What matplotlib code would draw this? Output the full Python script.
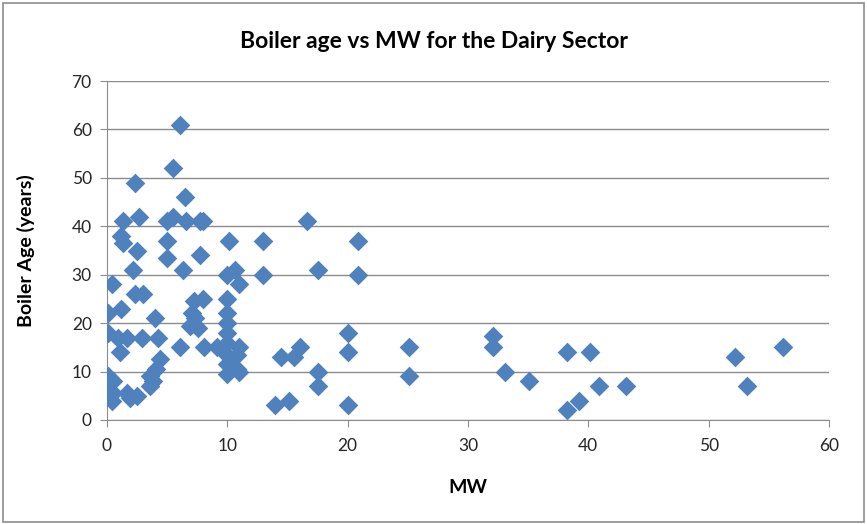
"""Scatter of boiler age against MW for the dairy sector."""

import matplotlib

matplotlib.use("Agg")
import matplotlib.pyplot as plt  # noqa:E402
from matplotlib.patches import Rectangle  # noqa:E402

OUTPUT_FIG = "out.png"

# boiler capacity (MW) and age (years)
mw = [
    6.1, 5.5, 2.3, 6.5,
    1.3, 2.7, 5.0, 5.5, 6.6, 7.7, 8.0, 16.6,
    1.2, 1.3, 5.0, 10.1, 13.0, 20.9,
    2.5, 5.0, 7.7,
    2.2, 6.3, 10.0, 10.6, 13.0, 17.5, 20.9,
    0.4, 11.0,
    2.3, 3.0, 7.2, 8.0, 10.0,
    1.2, 0.1, 4.0, 7.1, 7.3, 6.9, 7.6, 10.0, 10.0,
    0.1, 0.9, 1.7, 2.9, 4.2, 10.0, 20.0, 32.1,
    1.1, 6.1, 8.1, 9.1, 10.0, 11.0, 10.0, 10.8,
    14.5, 15.5, 16.0, 20.0, 25.1, 32.1, 38.2, 40.1, 52.2, 56.2,
    4.4, 4.1, 3.6, 3.8, 3.6, 10.0, 10.8, 10.0, 11.0, 17.5, 33.1, 25.1, 35.1,
    0.1, 0.5, 0.1, 0.5, 0.4, 1.7, 1.9, 2.5,
    17.5, 40.9, 43.1, 53.2,
    14.0, 15.1, 20.0, 38.2, 39.2,
]
age = [
    61, 52, 49, 46,
    41, 42, 41, 42, 41, 41, 41, 41,
    38, 36.5, 37, 37, 37, 37,
    35, 33.5, 34,
    31, 31, 30, 31, 30, 31, 30,
    28, 28,
    26, 26, 24.5, 25, 25,
    23, 22, 21, 22, 21, 19.5, 19, 22, 20,
    18, 17, 17, 17, 17, 18, 18, 17.4,
    14, 15, 15, 15, 16, 15, 13.5, 13.5,
    13, 13, 15, 14, 15, 15, 14, 14, 13, 15,
    12.5, 10.5, 9, 8, 7, 11.5, 10.5, 9.5, 10, 10, 10, 9, 8,
    9, 8, 6.5, 5.5, 4, 5.5, 4.5, 5,
    7, 7, 7, 7,
    3, 4, 3, 2, 4,
]

x_ticks = [0, 10, 20, 30, 40, 50, 60]
y_ticks = [0, 10, 20, 30, 40, 50, 60, 70]

plt.rcParams["font.family"] = ["Lato", "DejaVu Sans"]

fig = plt.figure(figsize=(8.67, 5.24), dpi=100)
ax = fig.add_axes([107 / 867, 1 - 420 / 524, 722 / 867, 339 / 524])

ax.scatter(mw, age, marker="D", s=100, color="#4F81BD", linewidths=0, zorder=3)

ax.set_xlim(0, 60)
ax.set_ylim(0, 70)
ax.set_xticks(x_ticks)
ax.set_yticks(y_ticks)
ax.grid(axis="y", color="#8c8c8c", linewidth=1.0)
ax.set_axisbelow(True)
for side in ("top", "right"):
    ax.spines[side].set_visible(False)
for side in ("left", "bottom"):
    ax.spines[side].set_color("#8c8c8c")
ax.tick_params(axis="both", colors="#8c8c8c", labelcolor="#262626",
               labelsize=12.5, length=5, direction="out")
ax.tick_params(axis="x", pad=8)
ax.tick_params(axis="y", pad=6)

ax.set_xlabel("MW", fontsize=14, fontweight="bold", labelpad=18)
ax.set_ylabel("Boiler Age (years)", fontsize=14, fontweight="bold", labelpad=26)
fig.text(0.5, 1 - 41 / 524, "Boiler age vs MW for the Dairy Sector",
         ha="center", va="center", fontsize=16.5, fontweight="bold")

# chart area border
fig.patches.append(Rectangle((3 / 867, 2 / 524), 861 / 867, 519 / 524,
                             transform=fig.transFigure, fill=False,
                             edgecolor="#8c8c8c", linewidth=1.2))

fig.savefig(OUTPUT_FIG, dpi=100)
